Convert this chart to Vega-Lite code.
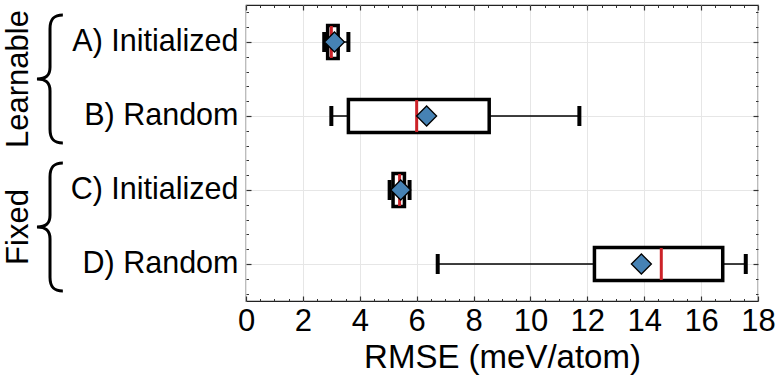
{
  "$schema": "https://vega.github.io/schema/vega-lite/v6.json",
  "width": 512,
  "height": 296,
  "autosize": "none",
  "padding": {"left": 246, "top": 5, "right": 22, "bottom": 75},
  "background": "white",
  "config": {
    "font": "Liberation Sans",
    "view": {"stroke": "#222", "strokeWidth": 1.2},
    "axis": {"labelFont": "Liberation Sans", "titleFont": "Liberation Sans", "labelColor": "black", "titleColor": "black", "gridColor": "#e6e6e6", "gridWidth": 1, "tickColor": "#333", "domain": false, "labelFlush": false, "labelOverlap": false}
  },
  "datasets": {
    "stats": [
      {"label": "A) Initialized", "min": 2.75, "q1": 2.87, "median": 3.0, "q3": 3.24, "max": 3.6, "mean": 3.11},
      {"label": "B) Random", "min": 3.0, "q1": 3.6, "median": 6.0, "q3": 8.55, "max": 11.72, "mean": 6.35},
      {"label": "C) Initialized", "min": 5.05, "q1": 5.17, "median": 5.4, "q3": 5.57, "max": 5.75, "mean": 5.44},
      {"label": "D) Random", "min": 6.74, "q1": 12.25, "median": 14.6, "q3": 16.76, "max": 17.57, "mean": 13.9}
    ],
    "groups": [
      {"group": "Learnable", "label": "A) Initialized"},
      {"group": "Fixed", "label": "C) Initialized"}
    ]
  },
  "resolve": {"scale": {"y": "independent"}, "axis": {"x": "independent", "y": "independent"}},
  "layer": [
    {
      "resolve": {"axis": {"x": "independent", "y": "independent"}},
      "layer": [
        {
          "data": {"name": "stats"},
          "mark": {"type": "rule", "color": "black", "strokeWidth": 1.5},
          "encoding": {
            "y": {"field": "label", "type": "nominal", "scale": {"type": "band", "domain": ["A) Initialized", "B) Random", "C) Initialized", "D) Random"], "paddingInner": 0, "paddingOuter": 0},
                  "axis": {"title": null, "labelFontSize": 30.5, "labelPadding": 8, "ticks": false, "grid": true}},
            "x": {"field": "min", "type": "quantitative", "scale": {"domain": [0, 18], "nice": false, "zero": false},
                  "axis": {"orient": "bottom", "values": [0, 2, 4, 6, 8, 10, 12, 14, 16, 18], "ticks": false, "grid": true, "labelFontSize": 31, "labelPadding": 5, "title": "RMSE (meV/atom)", "titleFontSize": 33, "titleFontWeight": "normal", "titlePadding": 5}},
            "x2": {"field": "max"}
          }
        },
        {
          "data": {"name": "stats"},
          "mark": {"type": "tick", "color": "black", "size": 20, "thickness": 4, "opacity": 1},
          "encoding": {
            "y": {"field": "label", "type": "nominal",
                  "axis": {"orient": "left", "labels": false, "grid": false, "ticks": true, "tickSize": -5, "tickWidth": 1.2, "title": null}},
            "x": {"field": "min", "type": "quantitative",
                  "axis": {"orient": "bottom", "values": [0, 2, 4, 6, 8, 10, 12, 14, 16, 18], "labels": false, "grid": false, "ticks": true, "tickSize": -5, "tickWidth": 1.2, "title": null}}
          }
        },
        {
          "data": {"name": "stats"},
          "mark": {"type": "tick", "color": "black", "size": 20, "thickness": 4, "opacity": 1},
          "encoding": {
            "y": {"field": "label", "type": "nominal",
                  "axis": {"orient": "right", "labels": false, "grid": false, "ticks": true, "tickSize": -5, "tickWidth": 1.2, "title": null}},
            "x": {"field": "max", "type": "quantitative",
                  "axis": {"orient": "bottom", "values": [0.5, 1, 1.5, 2.5, 3, 3.5, 4.5, 5, 5.5, 6.5, 7, 7.5, 8.5, 9, 9.5, 10.5, 11, 11.5, 12.5, 13, 13.5, 14.5, 15, 15.5, 16.5, 17, 17.5], "labels": false, "grid": false, "ticks": true, "tickSize": -2.5, "tickWidth": 1, "title": null}}
          }
        },
        {
          "data": {"name": "stats"},
          "mark": {"type": "bar", "fill": "white", "stroke": "black", "strokeWidth": 3.5, "size": 33, "opacity": 1},
          "encoding": {
            "y": {"field": "label", "type": "nominal", "axis": null},
            "x": {"field": "q1", "type": "quantitative",
                  "axis": {"orient": "top", "values": [0, 2, 4, 6, 8, 10, 12, 14, 16, 18], "labels": false, "grid": false, "ticks": true, "tickSize": -5, "tickWidth": 1.2, "title": null}},
            "x2": {"field": "q3"}
          }
        },
        {
          "data": {"name": "stats"},
          "mark": {"type": "tick", "color": "#cc2228", "size": 32, "thickness": 3, "opacity": 1},
          "encoding": {
            "y": {"field": "label", "type": "nominal", "axis": null},
            "x": {"field": "median", "type": "quantitative",
                  "axis": {"orient": "top", "values": [0.5, 1, 1.5, 2.5, 3, 3.5, 4.5, 5, 5.5, 6.5, 7, 7.5, 8.5, 9, 9.5, 10.5, 11, 11.5, 12.5, 13, 13.5, 14.5, 15, 15.5, 16.5, 17, 17.5], "labels": false, "grid": false, "ticks": true, "tickSize": -2.5, "tickWidth": 1, "title": null}}
          }
        },
        {
          "data": {"name": "stats"},
          "mark": {"type": "point", "shape": "diamond", "size": 400, "filled": true, "fill": "#4682b4", "stroke": "black", "strokeWidth": 1.3, "opacity": 1},
          "encoding": {
            "y": {"field": "label", "type": "nominal", "axis": null},
            "x": {"field": "mean", "type": "quantitative", "axis": null}
          }
        },
        {
          "data": {"name": "groups"},
          "mark": {"type": "text", "angle": 270, "fontSize": 31, "align": "center", "baseline": "alphabetic", "color": "black", "dx": -37, "dy": -218},
          "encoding": {
            "y": {"field": "label", "type": "nominal", "axis": null},
            "x": {"datum": 0, "type": "quantitative", "axis": null},
            "text": {"field": "group"}
          }
        },
        {
          "data": {"name": "groups"},
          "mark": {"type": "point", "shape": "M -4.95 -0.73 C -5.2 -0.73 -5.297 -0.62 -5.297 -0.36 L -5.297 0.68 C -5.297 0.9 -5.4 1.0 -5.65 1.0 C -5.4 1.0 -5.297 1.1 -5.297 1.32 L -5.297 2.36 C -5.297 2.62 -5.2 2.73 -4.95 2.73", "size": 5476, "filled": false, "stroke": "black", "strokeWidth": 3, "opacity": 1},
          "encoding": {
            "y": {"field": "label", "type": "nominal", "axis": null},
            "x": {"datum": 0, "type": "quantitative", "axis": null}
          }
        }
      ]
    },
    {
      "data": {"values": [{}]},
      "resolve": {"axis": {"y": "independent"}},
      "layer": [
        {
          "mark": {"type": "rule", "opacity": 0},
          "encoding": {
            "y": {"datum": 1, "type": "quantitative", "scale": {"domain": [0.5, 4.5], "reverse": true, "nice": false, "zero": false},
                  "axis": {"orient": "left", "values": [0.6, 0.8, 1.2, 1.4, 1.6, 1.8, 2.2, 2.4, 2.6, 2.8, 3.2, 3.4, 3.6, 3.8, 4.2, 4.4], "labels": false, "grid": false, "ticks": true, "tickSize": -2.5, "tickWidth": 1, "title": null}}
          }
        },
        {
          "mark": {"type": "rule", "opacity": 0},
          "encoding": {
            "y": {"datum": 1, "type": "quantitative",
                  "axis": {"orient": "right", "values": [0.6, 0.8, 1.2, 1.4, 1.6, 1.8, 2.2, 2.4, 2.6, 2.8, 3.2, 3.4, 3.6, 3.8, 4.2, 4.4], "labels": false, "grid": false, "ticks": true, "tickSize": -2.5, "tickWidth": 1, "title": null}}
          }
        }
      ]
    }
  ]
}
